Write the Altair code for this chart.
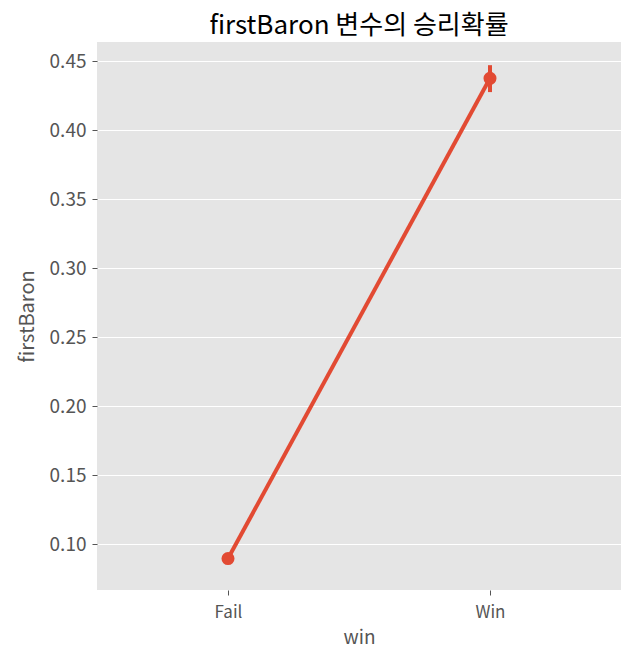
import altair as alt
import pandas as pd

categories = ["Fail", "Win"]
means = [0.0895, 0.4375]
ci_low = [0.0860, 0.4275]
ci_high = [0.0930, 0.4470]

df = pd.DataFrame({"win": categories, "firstBaron": means, "lo": ci_low, "hi": ci_high})

RED = "#E24A33"
FONT = "Noto Sans CJK KR"

x = alt.X("win:N", title="win", sort=categories,
          scale=alt.Scale(type="point", padding=0.5),
          axis=alt.Axis(labelAngle=0, grid=False, domain=False, tickColor="#555555",
                        tickSize=5, labelColor="#555555", labelFontSize=17, labelFont=FONT,
                        titleColor="#555555", titleFontSize=19, titleFont=FONT,
                        titleFontWeight="normal", labelPadding=9, titlePadding=8))
y_scale = alt.Scale(domain=[0.0667, 0.4638], nice=False, zero=False)
y_axis = alt.Axis(values=[0.10, 0.15, 0.20, 0.25, 0.30, 0.35, 0.40, 0.45], format=".2f",
                  grid=True, gridColor="white", gridWidth=1.2, domain=False,
                  tickColor="#555555", tickSize=5, labelColor="#555555", labelFontSize=19,
                  labelFont=FONT, titleColor="#555555", titleFontSize=20, titleFont=FONT,
                  titleFontWeight="normal", labelPadding=6, titlePadding=12)

base = alt.Chart(df)
line = base.mark_line(color=RED, strokeWidth=4).encode(
    x=x, y=alt.Y("firstBaron:Q", title="firstBaron", scale=y_scale, axis=y_axis))
err = base.mark_rule(color=RED, strokeWidth=4).encode(
    x=x, y=alt.Y("lo:Q", scale=y_scale), y2="hi:Q")
pts = base.mark_point(color=RED, filled=True, opacity=1, size=170).encode(
    x=x, y=alt.Y("firstBaron:Q", scale=y_scale))

chart = (line + err + pts).properties(
    width=524, height=548,
    title=alt.TitleParams("firstBaron 변수의 승리확률", font=FONT, fontSize=26,
                          fontWeight="normal", color="black", offset=3),
    autosize=alt.AutoSizeParams(type="none"),
    padding={"left": 89, "top": 34, "right": 0, "bottom": 60},
).configure_view(fill="#E5E5E5", stroke=None)

chart.save("out.html", embed_options={"renderer": "svg", "actions": False})
